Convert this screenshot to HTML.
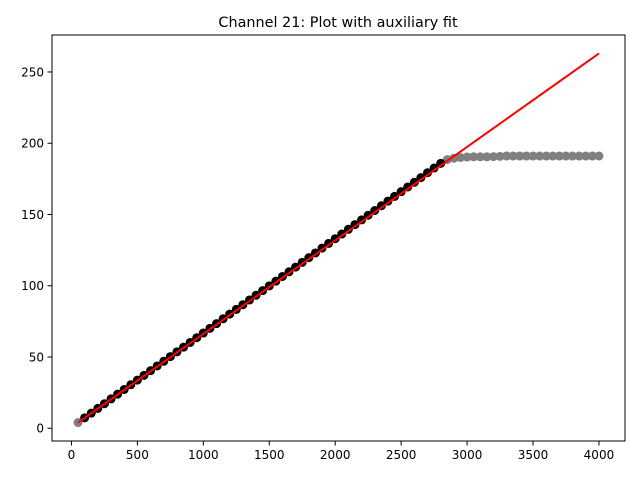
<!DOCTYPE html>
<html><head><meta charset="utf-8"><style>
body{margin:0;background:#fff;}
svg text{font-family:"DejaVu Sans","Liberation Sans",sans-serif;fill:#000;}
</style></head><body>
<svg id="chart" width="640" height="480" viewBox="0 0 640 480">
<rect width="640" height="480" fill="#fff"/>
<text x="338" y="27" font-size="14.4" text-anchor="middle">Channel 21: Plot with auxiliary fit</text>
<g id="marks"></g>
<rect x="52" y="35" width="573" height="406" fill="none" stroke="#000" stroke-width="1"/>
<g id="axes"></g>
</svg>
<script>
const xTicks=[0,500,1000,1500,2000,2500,3000,3500,4000];
const yTicks=[0,50,100,150,200,250];
const fitX=[100,150,200,250,300,350,400,450,500,550,600,650,700,750,800,850,900,950,1000,1050,1100,1150,1200,1250,1300,1350,1400,1450,1500,1550,1600,1650,1700,1750,1800,1850,1900,1950,2000,2050,2100,2150,2200,2250,2300,2350,2400,2450,2500,2550,2600,2650,2700,2750,2800];
const fitY=[7.3,10.6,13.9,17.2,20.6,23.9,27.2,30.5,33.8,37.1,40.4,43.7,47.0,50.3,53.6,56.9,60.2,63.5,66.8,70.1,73.4,76.8,80.1,83.4,86.7,90.0,93.3,96.6,99.9,103.2,106.5,109.8,113.1,116.4,119.7,123.0,126.4,129.7,133.0,136.3,139.6,142.9,146.2,149.5,152.8,156.1,159.4,162.7,166.0,169.3,172.6,175.9,179.3,182.6,185.9];
const auxX=[50,2850,2900,2950,3000,3050,3100,3150,3200,3250,3300,3350,3400,3450,3500,3550,3600,3650,3700,3750,3800,3850,3900,3950,4000];
const auxY=[4,188.5,189.5,190,190.3,190.5,190.5,190.5,190.6,190.8,191,191,191,191,191,191,191,191,191,191,191,191,191,191,191];
const lineX=[50,4000];
const lineY=[4,263];
const X0=52,X1=625,Y0=441,Y1=35,xmin=-147.5,xmax=4197.5,ymin=-8.95,ymax=275.95;
const sx=v=>X0+(v-xmin)/(xmax-xmin)*(X1-X0);
const sy=v=>Y0-(v-ymin)/(ymax-ymin)*(Y0-Y1);
const NS="http://www.w3.org/2000/svg";
const marks=document.getElementById('marks'),axes=document.getElementById('axes');
function mk(t,a,p){const e=document.createElementNS(NS,t);for(const k in a)e.setAttribute(k,a[k]);p.appendChild(e);return e;}
auxX.forEach((x,i)=>{const c=mk('circle',{cx:sx(x),cy:sy(auxY[i]),r:4.5,fill:'#808080'},marks);

});
fitX.forEach((x,i)=>{const c=mk('circle',{cx:sx(x),cy:sy(fitY[i]),r:4.5,fill:'#000'},marks);

});
const ln=mk('line',{x1:sx(lineX[0]),y1:sy(lineY[0]),x2:sx(lineX[1]),y2:sy(lineY[1]),stroke:'#ff0000','stroke-width':2},marks);


xTicks.forEach(v=>{const x=sx(v);mk('line',{x1:x,y1:Y0,x2:x,y2:Y0+4.5,stroke:'#000'},axes);
const t=mk('text',{x:x,y:Y0+18,'font-size':12,'text-anchor':'middle'},axes);t.textContent=v;

});
yTicks.forEach(v=>{const y=sy(v);mk('line',{x1:X0,y1:y,x2:X0-4.5,y2:y,stroke:'#000'},axes);
const t=mk('text',{x:X0-8,y:y+4.5,'font-size':12,'text-anchor':'end'},axes);t.textContent=v;

});
</script>
</body></html>
